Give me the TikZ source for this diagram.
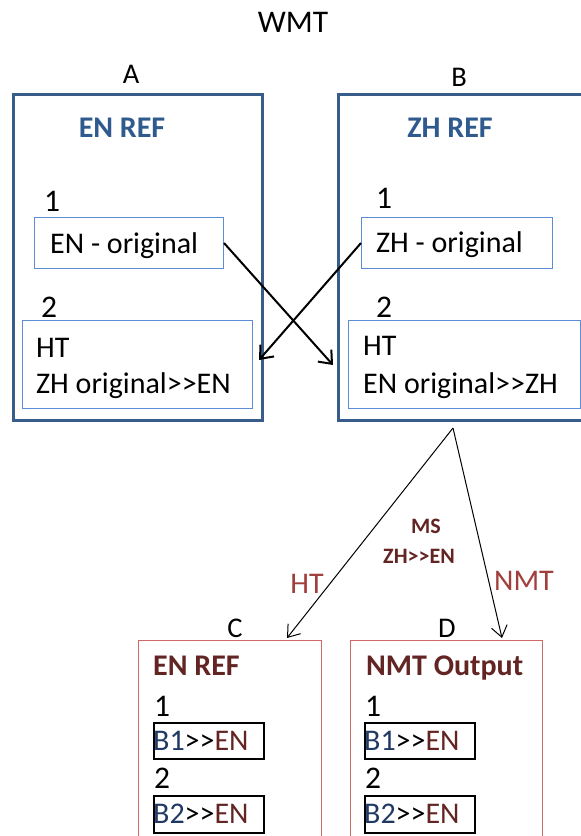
\documentclass[tikz,border=0pt]{standalone}
\usepackage{fontspec}
\setmainfont{Carlito}
\usetikzlibrary{arrows.meta}
\definecolor{outerblue}{HTML}{385D8A}
\definecolor{innerblue}{HTML}{5B8ED6}
\definecolor{titleblue}{HTML}{2F5A8E}
\definecolor{redbox}{HTML}{CD6A68}
\definecolor{darkred}{HTML}{632523}
\definecolor{labelred}{HTML}{A03F3C}
\definecolor{bblue}{HTML}{1F3864}
\tikzset{
  outerbox/.style={draw=outerblue, line width=3pt, rectangle, inner sep=0pt},
  innerbox/.style={draw=innerblue, line width=1pt, rectangle, inner sep=0pt},
  redframe/.style={draw=redbox, line width=1.2pt, rectangle, inner sep=0pt},
  blackbox/.style={draw=black, line width=1.6pt, rectangle, inner sep=0pt},
  body/.style={inner sep=0pt, font=\fontsize{30}{36}\selectfont},
  num/.style={inner sep=0pt, font=\fontsize{31.5}{38}\selectfont, anchor=base west},
  letter/.style={inner sep=0pt, font=\fontsize{28.5}{34}\selectfont, anchor=base},
  boldtitle/.style={inner sep=0pt, font=\fontsize{30}{36}\selectfont\bfseries},
  small/.style={inner sep=0pt, font=\fontsize{22}{26}\selectfont\bfseries, text=darkred, anchor=base},
  cross/.style={draw=black, line width=2pt, -{Straight Barb[length=11pt,width=18pt,line width=2pt]}},
  thin/.style={draw=black, line width=1pt, -{Straight Barb[length=11pt,width=16pt,line width=1pt]}},
}
\begin{document}
\begin{tikzpicture}[x=1pt,y=-1pt]
\useasboundingbox (0,0) rectangle (581,836);
\clip (0,0) rectangle (581,836);
\fill[white] (0,0) rectangle (581,836);

% title
\node[body, font=\fontsize{31.5}{38}\selectfont, anchor=base] (wmt) at (293,32) {WMT};

% box A
\node[outerbox, anchor=north west, minimum width=249pt, minimum height=326pt] (boxA) at (12,93) {};
\node[letter] (labA) at (131,83) {A};
\node[boldtitle, text=titleblue, anchor=base] (titA) at (122,137) {EN REF};
\node[num] (numA1) at (44,211) {1};
\node[innerbox, anchor=north west, minimum width=189pt, minimum height=51pt] (enorig) at (34,217) {};
\node[body, anchor=base west] (enorigtxt) at (50,253) {EN - original};
\node[num] (numA2) at (41,317) {2};
\node[innerbox, anchor=north west, minimum width=230pt, minimum height=88pt] (htA) at (22,320) {};
\node[body, anchor=base west] (htAa) at (36,357) {HT};
\node[body, anchor=base west] (htAb) at (36,393) {ZH original>{}>EN};

% box B
\node[outerbox, anchor=north west, minimum width=260pt, minimum height=326pt] (boxB) at (337,93) {};
\node[letter] (labB) at (459,86) {B};
\node[boldtitle, text=titleblue, anchor=base] (titB) at (450,137) {ZH REF};
\node[num] (numB1) at (376,208) {1};
\node[innerbox, anchor=north west, minimum width=191pt, minimum height=51pt] (zhorig) at (361,217) {};
\node[body, anchor=base west] (zhorigtxt) at (376,252) {ZH - original};
\node[num] (numB2) at (376,317) {2};
\node[innerbox, anchor=north west, minimum width=232pt, minimum height=88pt] (htB) at (348,320) {};
\node[body, anchor=base west] (htBa) at (363,355) {HT};
\node[body, anchor=base west] (htBb) at (363,393) {EN original>{}>ZH};

% cross arrows
\coordinate (tipB) at (333,365);
\coordinate (tipA) at (259,360);
\draw[cross] (enorig.east) -- (tipB);
\draw[cross] (zhorig.west) -- (tipA);

% split
\coordinate (split) at (453,428);
\coordinate (tipC) at (287,638);
\coordinate (tipD) at (502,638);
\draw[thin] (split) -- (tipC);
\draw[thin] (split) -- (tipD);
\node[small] (ms) at (426,533) {MS};
\node[small] (zhen) at (419,563) {ZH>{}>EN};
\node[body, anchor=base, text=labelred] (htlab) at (307,593) {HT};
\node[body, anchor=base, text=labelred] (nmtlab) at (524,590) {NMT};

% box C
\node[letter] (labC) at (235,637) {C};
\node[redframe, anchor=north west, minimum width=183pt, minimum height=250pt] (boxC) at (138,640) {};
\node[boldtitle, text=darkred, anchor=base west] (titC) at (153,675) {EN REF};
\node[num] (numC1) at (154,716) {1};
\node[blackbox, anchor=north west, minimum width=110pt, minimum height=36pt] (c1) at (153,722) {};
\node[body, anchor=base west] (c1t) at (153,750) {\textcolor{bblue}{B1}>{}>\textcolor{darkred}{EN}};
\node[num] (numC2) at (154,788) {2};
\node[blackbox, anchor=north west, minimum width=110pt, minimum height=37pt] (c2) at (153,795) {};
\node[body, anchor=base west] (c2t) at (153,823) {\textcolor{bblue}{B2}>{}>\textcolor{darkred}{EN}};

% box D
\node[letter] (labD) at (447,637) {D};
\node[redframe, anchor=north west, minimum width=192pt, minimum height=250pt] (boxD) at (350,640) {};
\node[boldtitle, text=darkred, anchor=base west] (titD) at (366,675) {NMT Output};
\node[num] (numD1) at (365,716) {1};
\node[blackbox, anchor=north west, minimum width=110pt, minimum height=36pt] (d1) at (364,722) {};
\node[body, anchor=base west] (d1t) at (364,750) {\textcolor{bblue}{B1}>{}>\textcolor{darkred}{EN}};
\node[num] (numD2) at (365,788) {2};
\node[blackbox, anchor=north west, minimum width=110pt, minimum height=37pt] (d2) at (364,795) {};
\node[body, anchor=base west] (d2t) at (364,823) {\textcolor{bblue}{B2}>{}>\textcolor{darkred}{EN}};
\end{tikzpicture}
\end{document}
